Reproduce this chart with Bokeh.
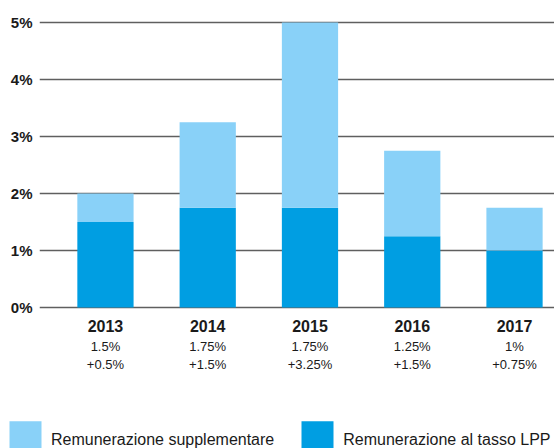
from bokeh.plotting import figure
from bokeh.layouts import column, row
from bokeh.models import (ColumnDataSource, Range1d, FixedTicker, LinearAxis,
                          Legend, LegendItem)
from bokeh.embed import file_html
from bokeh.resources import INLINE

years = ["2013", "2014", "2015", "2016", "2017"]
base_rate = [1.5, 1.75, 1.75, 1.25, 1.0]        # Remunerazione al tasso LPP
supplement = [0.5, 1.5, 3.25, 1.5, 0.75]         # Remunerazione supplementare
y_ticks = [0, 1, 2, 3, 4, 5]
series_names = ["Remunerazione al tasso LPP", "Remunerazione supplementare"]

FONT = "Liberation Sans, Arial, sans-serif"
LIGHT = "#89D1F8"
DARK = "#009EE2"
TXT = "#1a1a1a"

xs = list(range(len(years)))
base_lbl = [f"{v:g}%" for v in base_rate]
supp_lbl = [f"+{v:g}%" for v in supplement]
src = ColumnDataSource(dict(x=xs, base=base_rate, supp=supplement))

p = figure(width=554, height=400, output_backend="svg", toolbar_location=None,
           x_range=Range1d(-0.645, 4.391), y_range=Range1d(-0.053, 5.07),
           min_border_left=39, min_border_right=0, min_border_top=18,
           min_border_bottom=90)
p.outline_line_color = None

rs = p.vbar_stack(["base", "supp"], x="x", width=0.55, source=src,
                  color=[DARK, LIGHT], line_color=None)

p.xgrid.grid_line_color = None
p.ygrid.ticker = FixedTicker(ticks=y_ticks)
p.ygrid.grid_line_color = "#5f5f5f"
p.ygrid.grid_line_width = 1.6

ya = p.yaxis[0]
ya.ticker = FixedTicker(ticks=y_ticks)
ya.major_label_overrides = {t: f"{t}%" for t in y_ticks}
ya.axis_line_color = None
ya.major_tick_line_color = None
ya.minor_tick_line_color = None
ya.major_tick_out = 0
ya.major_tick_in = 0
ya.major_label_standoff = 7
ya.major_label_text_font = FONT
ya.major_label_text_font_size = "15px"
ya.major_label_text_font_style = "bold"
ya.major_label_text_color = TXT


def style_x(ax, labels, size, bold, standoff):
    ax.ticker = FixedTicker(ticks=xs)
    ax.major_label_overrides = {i: s for i, s in zip(xs, labels)}
    ax.axis_line_color = None
    ax.major_tick_line_color = None
    ax.minor_tick_line_color = None
    ax.major_tick_out = 0
    ax.major_tick_in = 0
    ax.major_label_standoff = standoff
    ax.major_label_text_font = FONT
    ax.major_label_text_font_size = size
    ax.major_label_text_font_style = "bold" if bold else "normal"
    ax.major_label_text_color = TXT


style_x(p.xaxis[0], years, "16px", True, 9)
ax2 = LinearAxis()
style_x(ax2, base_lbl, "13px", False, 4)
p.add_layout(ax2, "below")
ax3 = LinearAxis()
style_x(ax3, supp_lbl, "13px", False, 0)
p.add_layout(ax3, "below")

# legend strip underneath
lf = figure(width=554, height=48, output_backend="svg", toolbar_location=None,
            x_range=Range1d(0, 1), y_range=Range1d(0, 1),
            x_axis_type=None, y_axis_type=None,
            min_border_left=0, min_border_right=0, min_border_top=0,
            min_border_bottom=0)
lf.outline_line_color = None
lf.xgrid.visible = False
lf.ygrid.visible = False
l_base = lf.vbar(x="x", top="base", width=0.5, source=src, color=DARK,
                 line_color=None, visible=False)
l_supp = lf.vbar(x="x", top="supp", width=0.5, source=src, color=LIGHT,
                 line_color=None, visible=False)

legend = Legend(items=[LegendItem(label=series_names[1], renderers=[l_supp]),
                       LegendItem(label=series_names[0], renderers=[l_base])],
                orientation="horizontal", location=(5, -15),
                glyph_width=40, glyph_height=47, label_standoff=6,
                spacing=23, padding=0, margin=0,
                border_line_color=None, background_fill_alpha=0,
                inactive_fill_alpha=0,
                label_text_font=FONT, label_text_font_size="16px",
                label_text_color=TXT)
lf.add_layout(legend, "center")

open("out.html", "w").write(file_html(column(p, row(lf)), INLINE))
